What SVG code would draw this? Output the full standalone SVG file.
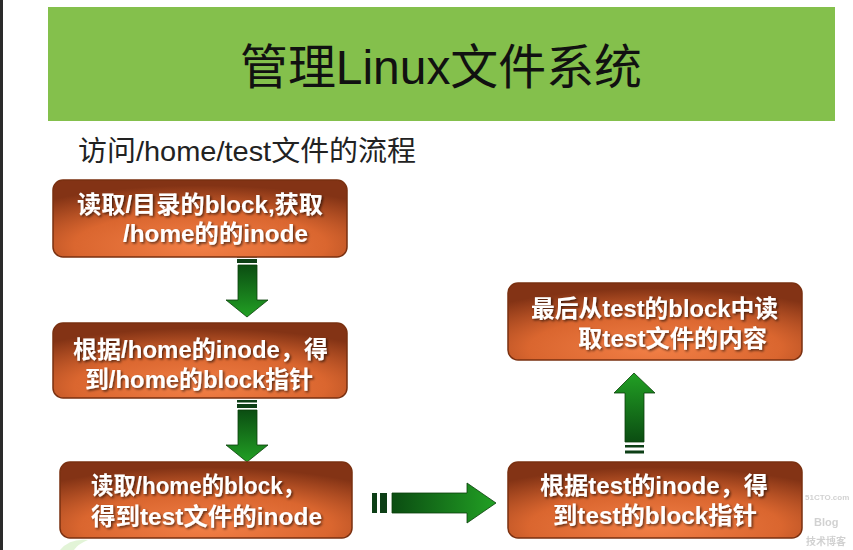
<svg xmlns="http://www.w3.org/2000/svg" width="853" height="550" viewBox="0 0 853 550">
  <defs>
    <radialGradient id="boxg" cx="50%" cy="85%" r="78%">
      <stop offset="0" stop-color="#f27f46"/>
      <stop offset="0.55" stop-color="#da662f"/>
      <stop offset="1" stop-color="#833315"/>
    </radialGradient>
    <linearGradient id="gdown" x1="0" y1="0" x2="0" y2="1">
      <stop offset="0" stop-color="#0b4d12"/>
      <stop offset="1" stop-color="#22a024"/>
    </linearGradient>
    <linearGradient id="gup" x1="0" y1="1" x2="0" y2="0">
      <stop offset="0" stop-color="#0b4d12"/>
      <stop offset="1" stop-color="#22a024"/>
    </linearGradient>
    <linearGradient id="gright" x1="0" y1="0" x2="1" y2="0">
      <stop offset="0" stop-color="#0b4d12"/>
      <stop offset="1" stop-color="#22a024"/>
    </linearGradient>
    <filter id="sh" x="-10%" y="-20%" width="120%" height="150%">
      <feDropShadow dx="1.5" dy="1.5" stdDeviation="0.8" flood-color="#000" flood-opacity="0.6"/>
    </filter>
  </defs>
  <style>
    .box { fill: url(#boxg); stroke: #7a3010; stroke-width: 1.5; }
    .lbl { font-family: "Liberation Sans", "Noto Sans CJK SC", sans-serif; font-weight: bold; font-size: 24px; fill: #ffffff; filter: url(#sh); }
    .arrow { stroke: #0a400a; stroke-width: 0.8; }
    .bar { fill: #0d3f16; }
    .wm { font-family: "Liberation Sans", "Noto Sans CJK SC", sans-serif; font-weight: bold; fill: #9a9a9a; opacity: 0.45; }
  </style>

  <rect x="0" y="0" width="853" height="550" fill="#ffffff"/>
  <rect x="0" y="0" width="3" height="550" fill="#2a2a2a"/>

  <g id="header">
    <rect x="48" y="7" width="787" height="114" fill="#84c04c"/>
    <text x="240" y="84" textLength="402" lengthAdjust="spacingAndGlyphs" font-family="'Liberation Sans', 'Noto Sans CJK SC', sans-serif" font-size="48" fill="#111111">管理Linux文件系统</text>
  </g>

  <g id="subtitle">
    <text x="78" y="161" textLength="338" lengthAdjust="spacingAndGlyphs" font-family="'Liberation Sans', 'Noto Sans CJK SC', sans-serif" font-size="28" fill="#222222">访问/home/test文件的流程</text>
  </g>

  <g id="connectors">
    <g id="arrow1">
      <rect class="bar" x="237" y="255" width="20" height="2.5"/>
      <rect class="bar" x="237" y="259" width="20" height="4"/>
      <path class="arrow" fill="url(#gdown)" d="M238,265 H257 V300 H268 L247,317 L226,300 H238 Z"/>
    </g>
    <g id="arrow2">
      <rect class="bar" x="237" y="400" width="20" height="2.5"/>
      <rect class="bar" x="237" y="404" width="20" height="4"/>
      <path class="arrow" fill="url(#gdown)" d="M238,410 H257 V445 H268 L247,462 L226,445 H238 Z"/>
    </g>
    <g id="arrow3">
      <rect class="bar" x="372" y="493" width="5" height="20"/>
      <rect class="bar" x="380" y="493" width="7" height="20"/>
      <path class="arrow" fill="url(#gright)" d="M392,493 H467 V483 L496,503 L467,523 V513 H392 Z"/>
    </g>
    <g id="arrow4">
      <rect class="bar" x="625" y="445" width="19" height="2.5"/>
      <rect class="bar" x="625" y="450.5" width="19" height="3"/>
      <path class="arrow" fill="url(#gup)" d="M625,442 V393 H614 L634,373 L655,393 H644 V442 Z"/>
    </g>
  </g>

  <g id="node1">
    <rect class="box" x="53" y="180" width="294" height="77" rx="10"/>
    <text class="lbl" x="77" y="213" textLength="246" lengthAdjust="spacingAndGlyphs">读取/目录的block,获取</text>
    <text class="lbl" x="123" y="242" textLength="185" lengthAdjust="spacingAndGlyphs">/home的的inode</text>
  </g>

  <g id="node2">
    <rect class="box" x="53" y="323" width="294" height="75" rx="10"/>
    <text class="lbl" x="73" y="358" textLength="255" lengthAdjust="spacingAndGlyphs">根据/home的inode，得</text>
    <text class="lbl" x="85" y="388" textLength="228" lengthAdjust="spacingAndGlyphs">到/home的block指针</text>
  </g>

  <g id="node3">
    <rect class="box" x="60" y="462" width="292" height="76" rx="10"/>
    <text class="lbl" x="91" y="494" textLength="214" lengthAdjust="spacingAndGlyphs">读取/home的block，</text>
    <text class="lbl" x="91" y="525" textLength="231" lengthAdjust="spacingAndGlyphs">得到test文件的inode</text>
  </g>

  <g id="node4">
    <rect class="box" x="508" y="283" width="294" height="77" rx="10"/>
    <text class="lbl" x="531" y="317" textLength="247" lengthAdjust="spacingAndGlyphs">最后从test的block中读</text>
    <text class="lbl" x="578" y="347" textLength="189" lengthAdjust="spacingAndGlyphs">取test文件的内容</text>
  </g>

  <g id="node5">
    <rect class="box" x="508" y="462" width="294" height="76" rx="10"/>
    <text class="lbl" x="540" y="494" textLength="228" lengthAdjust="spacingAndGlyphs">根据test的inode，得</text>
    <text class="lbl" x="553" y="524" textLength="204" lengthAdjust="spacingAndGlyphs">到test的block指针</text>
  </g>

  <g id="watermark">
    <text class="wm" x="805" y="500" font-size="8">51CTO.com</text>
    <text class="wm" x="814" y="526" font-size="11">Blog</text>
    <text class="wm" x="806" y="545" font-size="10">技术博客</text>
    <path d="M60,550 Q70,538 88,540 Q78,544 74,550 Z" fill="#d6efc6" opacity="0.7"/>
  </g>
</svg>
